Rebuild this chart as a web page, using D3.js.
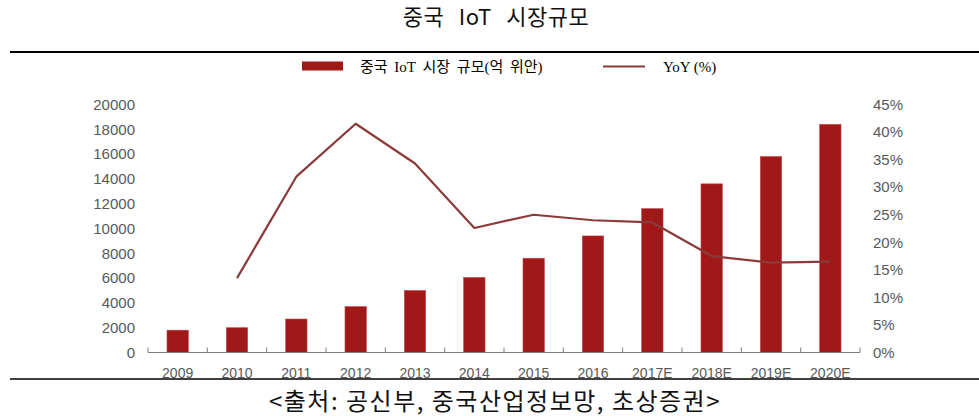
<!DOCTYPE html>
<html>
<head>
<meta charset="utf-8">
<script src="https://cdn.jsdelivr.net/npm/d3@7"></script>
<style>
  body { margin: 0; background: #fff; }
  svg { display: block; }
</style>
</head>
<body>
<svg id="drawing_region"></svg>
<script>
// data
const years = ['2009', '2010', '2011', '2012', '2013', '2014', '2015', '2016', '2017E', '2018E', '2019E', '2020E'];
const marketSize = [1800, 2000, 2700, 3700, 5000, 6050, 7600, 9400, 11600, 13600, 15800, 18400];
const yoy = [null, 0.135, 0.319, 0.415, 0.343, 0.226, 0.250, 0.240, 0.236, 0.175, 0.163, 0.165];
const leftTicks = [0, 2000, 4000, 6000, 8000, 10000, 12000, 14000, 16000, 18000, 20000];
const rightTicks = [0, 0.05, 0.10, 0.15, 0.20, 0.25, 0.30, 0.35, 0.40, 0.45];

const W = 979, H = 416;
const kr = "'Noto Sans CJK KR', 'Noto Sans', sans-serif";
const serif = "'Liberation Serif', 'Noto Sans CJK KR', serif";
const num = "'Liberation Sans', Arial, sans-serif";

const svg = d3.select('#drawing_region').attr('width', W).attr('height', H);

// title
svg.append('text').attr('x', 496).attr('y', 25).attr('text-anchor', 'middle')
  .attr('font-family', kr).attr('font-size', '22px').attr('fill', '#111')
  .attr('word-spacing', '9px').attr('letter-spacing', '0.5px')
  .text('중국 IoT 시장규모');

// rules
svg.append('line').attr('x1', 10).attr('x2', 979).attr('y1', 52).attr('y2', 52)
  .attr('stroke', '#000').attr('stroke-width', 2);
svg.append('line').attr('x1', 10).attr('x2', 979).attr('y1', 379).attr('y2', 379)
  .attr('stroke', '#000').attr('stroke-width', 1.5);

// source
svg.append('text').attr('x', 495).attr('y', 410).attr('text-anchor', 'middle')
  .attr('font-family', kr).attr('font-size', '24px').attr('fill', '#111')
  .attr('letter-spacing', '1.5px')
  .text('<출처: 공신부, 중국산업정보망, 초상증권>');

// scales
const x = d3.scaleBand().domain(years).range([148, 860]).paddingInner(0.64).paddingOuter(0.32);
const xStep = d3.scaleBand().domain(years).range([148, 860]).padding(0);
const yL = d3.scaleLinear().domain([0, 20000]).range([352.5, 104.5]);
const yR = d3.scaleLinear().domain([0, 0.45]).range([352.5, 104.5]);

// left axis labels
svg.append('g').attr('transform', 'translate(135,0)')
  .call(d3.axisLeft(yL).tickValues(leftTicks).tickSize(0).tickPadding(0).tickFormat(d3.format('d')))
  .call(g => g.select('.domain').remove())
  .call(g => g.selectAll('text').attr('font-family', num).attr('font-size', '15px').attr('fill', '#595959'));

// right axis labels
svg.append('g').attr('transform', 'translate(873,0)')
  .call(d3.axisRight(yR).tickValues(rightTicks).tickSize(0).tickPadding(0).tickFormat(d3.format('.0%')))
  .call(g => g.select('.domain').remove())
  .call(g => g.selectAll('text').attr('font-family', num).attr('font-size', '15px').attr('fill', '#595959'));

// bars
svg.append('g').selectAll('rect').data(marketSize).enter().append('rect')
  .attr('x', (d, i) => x(years[i]))
  .attr('y', d => yL(d))
  .attr('width', x.bandwidth())
  .attr('height', d => yL(0) - yL(d))
  .attr('fill', '#A01818')
  .attr('stroke', '#C04848').attr('stroke-width', 0.6);

// x axis
const xAxis = svg.append('g').attr('transform', `translate(0,${yL(0)})`);
xAxis.append('line').attr('x1', 148).attr('x2', 860).attr('y1', 0).attr('y2', 0)
  .attr('stroke', '#7f7f7f').attr('stroke-width', 1);
xAxis.selectAll('.tk').data(years.concat(['end'])).enter().append('line')
  .attr('x1', (d, i) => i < years.length ? xStep(d) : 860)
  .attr('x2', (d, i) => i < years.length ? xStep(d) : 860)
  .attr('y1', 0).attr('y2', -5)
  .attr('stroke', '#7f7f7f').attr('stroke-width', 1);
xAxis.selectAll('.lbl').data(years).enter().append('text')
  .attr('x', d => x(d) + x.bandwidth() / 2)
  .attr('y', 25)
  .attr('text-anchor', 'middle')
  .attr('font-family', num).attr('font-size', '14px').attr('fill', '#595959')
  .text(d => d);

// YoY line
const line = d3.line()
  .defined(d => d != null)
  .x((d, i) => x(years[i]) + x.bandwidth() / 2)
  .y(d => yR(d));
svg.append('path').datum(yoy).attr('d', line)
  .attr('fill', 'none').attr('stroke', '#8B3A3A').attr('stroke-width', 2.2)
  .attr('stroke-linejoin', 'round');

// legend
const lg = svg.append('g');
lg.append('rect').attr('x', 302).attr('y', 61.5).attr('width', 41).attr('height', 9)
  .attr('fill', '#A01818');
lg.append('text').attr('x', 360).attr('y', 72).attr('font-family', serif).attr('font-size', '15px')
  .attr('fill', '#000').attr('word-spacing', '3px').text('중국 IoT 시장 규모(억 위안)');
lg.append('line').attr('x1', 603).attr('x2', 645).attr('y1', 66.5).attr('y2', 66.5)
  .attr('stroke', '#8B3A3A').attr('stroke-width', 2.2);
lg.append('text').attr('x', 663).attr('y', 72).attr('font-family', serif).attr('font-size', '15px')
  .attr('fill', '#000').text('YoY (%)');
</script>
</body>
</html>
